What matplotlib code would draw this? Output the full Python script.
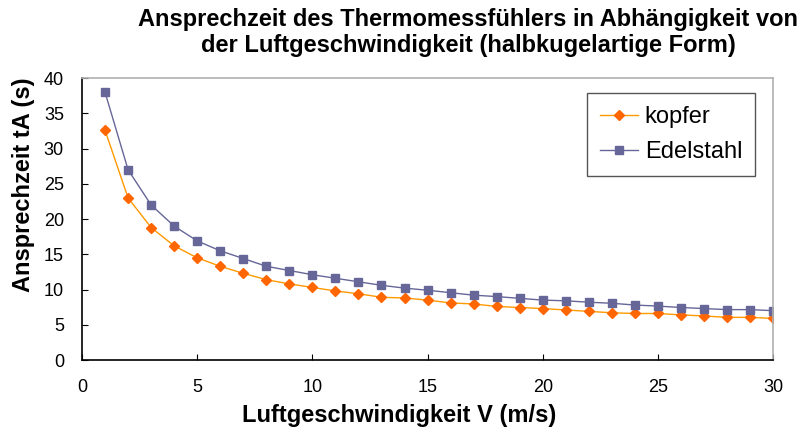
import matplotlib.pyplot as plt

plt.rcParams['font.family'] = ['Liberation Sans', 'DejaVu Sans']

v = list(range(1, 31))
kopfer = [32.6, 23.0, 18.8, 16.2, 14.5, 13.3, 12.3, 11.4, 10.8, 10.3,
          9.8, 9.4, 8.9, 8.8, 8.5, 8.1, 7.95, 7.6, 7.45, 7.3,
          7.1, 6.9, 6.7, 6.6, 6.6, 6.4, 6.25, 6.05, 6.05, 5.9]
edelstahl = [38.0, 27.0, 22.0, 19.0, 16.9, 15.5, 14.4, 13.3, 12.7, 12.1,
             11.6, 11.1, 10.6, 10.2, 9.9, 9.55, 9.2, 9.0, 8.75, 8.5,
             8.4, 8.2, 8.05, 7.8, 7.65, 7.45, 7.3, 7.15, 7.15, 7.0]

fig = plt.figure(figsize=(8.07, 4.34), dpi=100)
ax = fig.add_axes([0.1016, 0.1705, 0.8564, 0.6495])

ax.plot(v, kopfer, color='#FF9900', lw=1, marker='D', markersize=5.5,
        markerfacecolor='#FF6600', markeredgecolor='#FF6600', label='kopfer')
ax.plot(v, edelstahl, color='#666699', lw=1, marker='s', markersize=6,
        markerfacecolor='#666699', markeredgecolor='#666699', label='Edelstahl')

ax.set_xlim(0, 30)
ax.set_ylim(0, 40)
ax.set_xticks(range(0, 31, 5))
ax.set_yticks(range(0, 41, 5))
ax.tick_params(direction='in', labelsize=13, length=4)
ax.tick_params(axis='x', pad=14)
ax.tick_params(axis='y', pad=13)

ax.spines['left'].set_color('black')
ax.spines['bottom'].set_color('black')
ax.spines['top'].set_color('#B0B0B0')
ax.spines['right'].set_color('#B0B0B0')
for s in ax.spines.values():
    s.set_linewidth(1.2)

ax.set_xlabel('Luftgeschwindigkeit V (m/s)', fontsize=17, fontweight='bold', va='top')
ax.xaxis.set_label_coords(0.459, -0.155)
ax.set_ylabel('Ansprechzeit tA (s)', fontsize=17, fontweight='bold')
ax.yaxis.set_label_coords(-0.068, 0.62)
fig.text(0.58, 0.982, 'Ansprechzeit des Thermomessfühlers in Abhängigkeit von\nder Luftgeschwindigkeit (halbkugelartige Form)',
         ha='center', va='top', fontsize=17, fontweight='bold', linespacing=1.2)

leg = ax.legend(loc='upper right', bbox_to_anchor=(0.974, 0.947), borderaxespad=0,
                fontsize=17, fancybox=False, edgecolor='#555555', framealpha=1,
                handlelength=1.6, handletextpad=0.3, labelspacing=0.55, borderpad=0.55)
leg.get_frame().set_linewidth(1)

fig.savefig('out.png', dpi=100)
